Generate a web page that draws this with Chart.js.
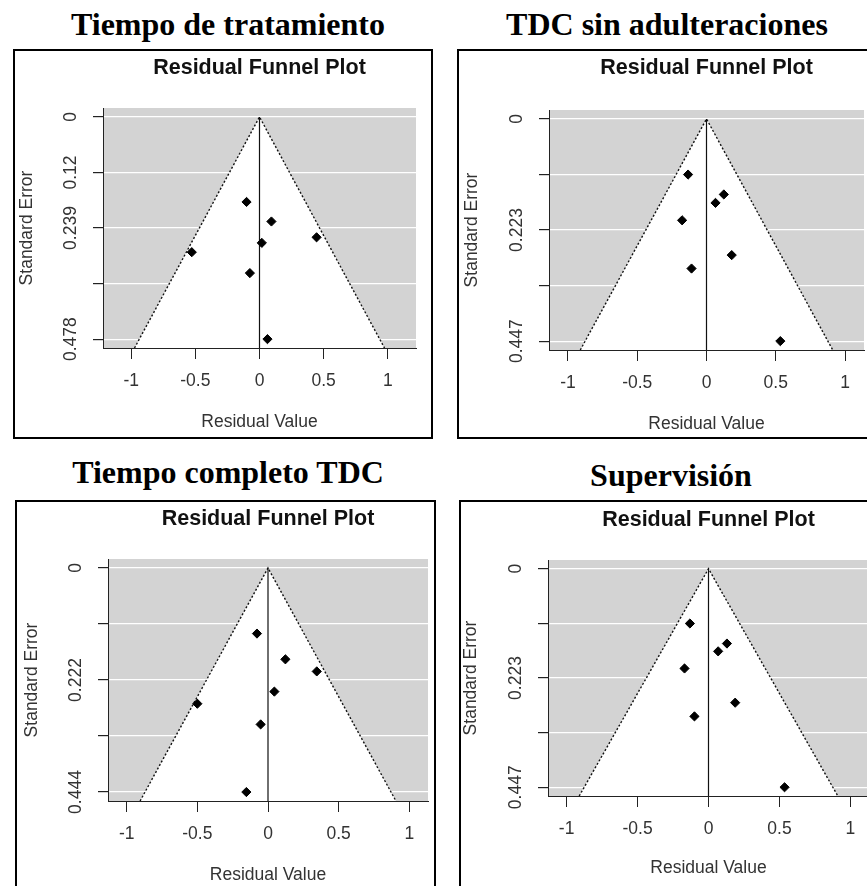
<!DOCTYPE html>
<html>
<head>
<meta charset="utf-8">
<script src="https://cdn.jsdelivr.net/npm/chart.js@4/dist/chart.umd.min.js"></script>
<style>
  html, body { margin: 0; padding: 0; background: #fff; overflow: hidden; }
  body { width: 867px; height: 886px; position: relative; }
  .heading {
    position: absolute; width: 440px; text-align: center; white-space: nowrap;
    font: bold 32px "Liberation Serif", "Times New Roman", serif; line-height: 32px; color: #000;
  }
  .box { position: absolute; border: 2px solid #000; box-sizing: content-box; overflow: hidden; background: #fff; }
  .box canvas { position: absolute; left: 0; top: 0; }
</style>
</head>
<body>
<script>
/* DATA */
const panelTitles = ["Tiempo de tratamiento", "TDC sin adulteraciones", "Tiempo completo TDC", "Supervisión"];

// Tiempo de tratamiento
const residualsTratamiento = [-0.101, 0.093, 0.445, 0.018, -0.528, -0.075, 0.062];
const stdErrTratamiento = [0.183, 0.225, 0.259, 0.271, 0.291, 0.336, 0.478];
const seTicksTratamiento = [0, 0.1195, 0.239, 0.3585, 0.478];
const seLabelsTratamiento = ["0", "0.12", "0.239", "", "0.478"];

// TDC sin adulteraciones
const residualsSinAdult = [-0.133, 0.125, 0.065, -0.176, 0.182, -0.108, 0.533];
const stdErrSinAdult = [0.112, 0.152, 0.169, 0.204, 0.274, 0.301, 0.447];
const seTicksSinAdult = [0, 0.11175, 0.2235, 0.33525, 0.447];
const seLabelsSinAdult = ["0", "", "0.223", "", "0.447"];

// Tiempo completo TDC
const residualsCompleto = [-0.078, 0.123, 0.345, 0.045, -0.50, -0.052, -0.153];
const stdErrCompleto = [0.130, 0.181, 0.205, 0.245, 0.269, 0.310, 0.444];
const seTicksCompleto = [0, 0.111, 0.222, 0.333, 0.444];
const seLabelsCompleto = ["0", "", "0.222", "", "0.444"];

// Supervisión
const residualsSupervision = [-0.131, 0.130, 0.068, -0.169, 0.188, -0.099, 0.536];
const stdErrSupervision = [0.112, 0.153, 0.169, 0.204, 0.274, 0.302, 0.447];
const seTicksSupervision = [0, 0.11175, 0.2235, 0.33525, 0.447];
const seLabelsSupervision = ["0", "", "0.223", "", "0.447"];

const residualTicks = [-1, -0.5, 0, 0.5, 1];
const residualLabels = ["-1", "-0.5", "0", "0.5", "1"];

/* LAYOUT (page pixels) */
const FONT = '"Liberation Sans", Arial, sans-serif';
const TITLE_SIZE = 21.5;
const AXIS_SIZE = 17.5;
const panels = [
  { res: residualsTratamiento, se: stdErrTratamiento, seTicks: seTicksTratamiento, seLabels: seLabelsTratamiento,
    heading: [228, 8], box: [13, 49], w: 416, h: 386, yAxisW: 88, plotTop: 57, padRight: 15, xAxisH: 89,
    yTitleX: 12, xTitleFromBottom: 15, titleY: 17, xRange: 1.22 },
  { res: residualsSinAdult, se: stdErrSinAdult, seTicks: seTicksSinAdult, seLabels: seLabelsSinAdult,
    heading: [667, 8], box: [457, 49], w: 420, h: 386, yAxisW: 90, plotTop: 59, padRight: 15, xAxisH: 87,
    yTitleX: 13, xTitleFromBottom: 13, titleY: 17, xRange: 1.137 },
  { res: residualsCompleto, se: stdErrCompleto, seTicks: seTicksCompleto, seLabels: seLabelsCompleto,
    heading: [228, 456], box: [15, 500], w: 417, h: 396, yAxisW: 91, plotTop: 57, padRight: 6, xAxisH: 97,
    yTitleX: 15, xTitleFromBottom: 23, titleY: 17, xRange: 1.132 },
  { res: residualsSupervision, se: stdErrSupervision, seTicks: seTicksSupervision, seLabels: seLabelsSupervision,
    heading: [671, 459], box: [459, 500], w: 420, h: 396, yAxisW: 87, plotTop: 58, padRight: 12, xAxisH: 102,
    yTitleX: 10, xTitleFromBottom: 30, titleY: 18, xRange: 1.131 }
];

/* gray plot region */
const plotBackground = {
  id: "plotBackground",
  beforeDraw(chart) {
    const { ctx, chartArea: a } = chart;
    ctx.save();
    ctx.fillStyle = "#d3d3d3";
    ctx.fillRect(a.left, a.top, a.right - a.left, a.bottom - a.top);
    ctx.restore();
  }
};

function buildPanel(p, title) {
  const head = document.createElement("div");
  head.className = "heading";
  head.textContent = title;
  head.style.left = (p.heading[0] - 220) + "px";
  head.style.top = p.heading[1] + "px";
  document.body.appendChild(head);

  const box = document.createElement("div");
  box.className = "box";
  box.style.left = p.box[0] + "px";
  box.style.top = p.box[1] + "px";
  box.style.width = p.w + "px";
  box.style.height = p.h + "px";
  const canvas = document.createElement("canvas");
  canvas.width = p.w;
  canvas.height = p.h;
  box.appendChild(canvas);
  document.body.appendChild(box);

  const seMax = p.seTicks[p.seTicks.length - 1];
  const yMin = -0.04 * seMax;
  const yMax = 1.04 * seMax;
  const titleLH = TITLE_SIZE * 1.2;
  const axisLH = AXIS_SIZE * 1.2;

  new Chart(canvas, {
    type: "scatter",
    data: {
      datasets: [
        {
          data: p.res.map((r, i) => ({ x: r, y: p.se[i] })),
          pointStyle: "rectRot", pointRadius: 4.6, pointHoverRadius: 4.6,
          backgroundColor: "#000", borderColor: "#000", borderWidth: 1
        },
        {
          type: "line",
          data: [{ x: 0, y: 0 }, { x: 0, y: yMax }],
          borderColor: "#111", borderWidth: 1.2, pointRadius: 0, fill: false
        },
        {
          type: "line",
          data: [{ x: -1.96 * yMax, y: yMax }, { x: 0, y: 0 }, { x: 1.96 * yMax, y: yMax }],
          borderColor: "#111", borderWidth: 1.4, borderDash: [2, 2], pointRadius: 0,
          tension: 0, fill: { value: yMax }, backgroundColor: "#fff"
        }
      ]
    },
    options: {
      responsive: false,
      animation: false,
      events: [],
      layout: { padding: { left: 0, top: 0, right: p.padRight, bottom: 0 } },
      plugins: {
        legend: { display: false },
        tooltip: { enabled: false },
        title: {
          display: true, text: "Residual Funnel Plot", fullSize: false, color: "#111",
          font: { family: FONT, size: TITLE_SIZE, weight: "bold" },
          padding: { top: p.titleY - titleLH / 2, bottom: p.plotTop - p.titleY - titleLH / 2 }
        }
      },
      scales: {
        x: {
          type: "linear", position: "bottom", min: -p.xRange, max: p.xRange,
          afterBuildTicks: s => { s.ticks = residualTicks.map(v => ({ value: v })); },
          afterFit: s => { s.height = p.xAxisH; },
          ticks: {
            callback: (v, i) => residualLabels[i], color: "#333",
            font: { family: FONT, size: AXIS_SIZE }, padding: 12, maxRotation: 0, autoSkip: false
          },
          grid: { drawOnChartArea: false, tickLength: 11, tickColor: "#222", lineWidth: 1 },
          border: { color: "#222", width: 1 },
          title: {
            display: true, text: "Residual Value", color: "#333", font: { family: FONT, size: AXIS_SIZE },
            padding: { top: 0, bottom: p.xTitleFromBottom - axisLH / 2 }
          }
        },
        y: {
          type: "linear", reverse: true, min: yMin, max: yMax,
          afterBuildTicks: s => { s.ticks = p.seTicks.map(v => ({ value: v })); },
          afterFit: s => { s.width = p.yAxisW; },
          ticks: {
            callback: (v, i) => p.seLabels[i], color: "#333", font: { family: FONT, size: AXIS_SIZE },
            minRotation: 90, maxRotation: 90, crossAlign: "center", padding: 0, autoSkip: false
          },
          grid: { color: "#fff", lineWidth: 1.2, tickLength: 10, tickColor: "#222" },
          border: { color: "#222", width: 1 },
          title: {
            display: true, text: "Standard Error", color: "#333", font: { family: FONT, size: AXIS_SIZE },
            padding: { top: p.yTitleX - axisLH / 2, bottom: 0 }
          }
        }
      }
    },
    plugins: [plotBackground]
  });
}

panels.forEach((p, i) => buildPanel(p, panelTitles[i]));
</script>
</body>
</html>
